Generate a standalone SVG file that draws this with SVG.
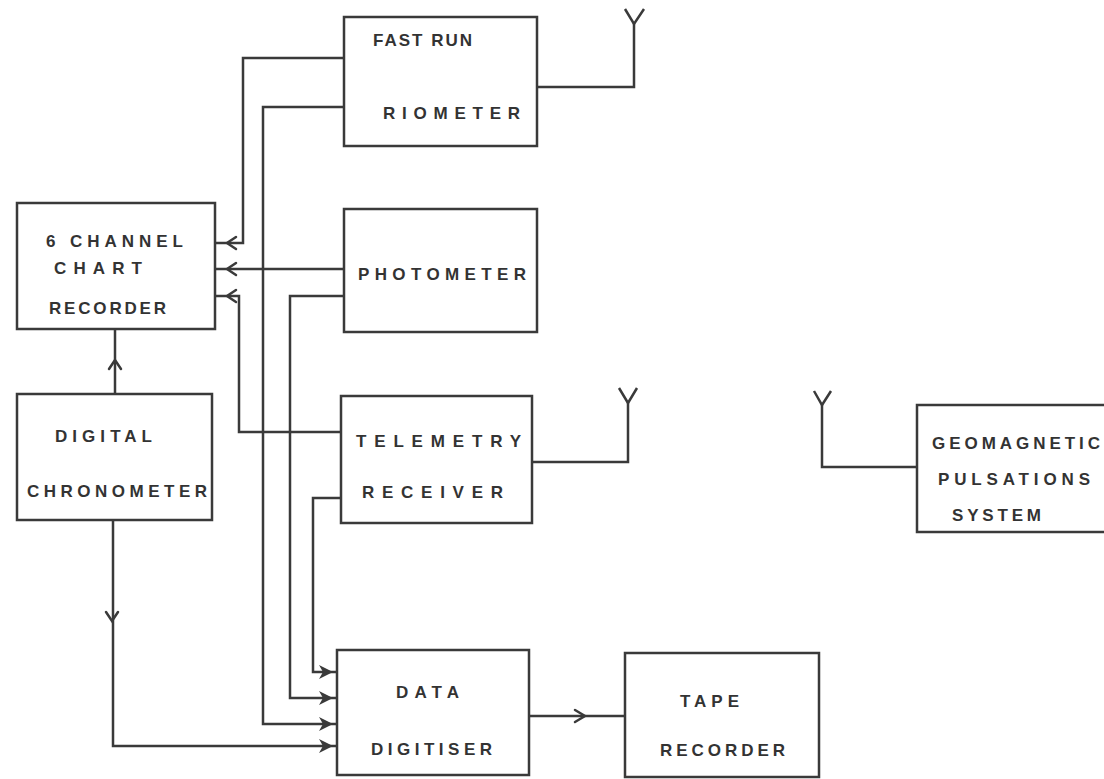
<svg xmlns="http://www.w3.org/2000/svg" width="1104" height="779" viewBox="0 0 1104 779">
<style>
.box{fill:none;stroke:#3a3a3a;stroke-width:2.5}
.ln{fill:none;stroke:#3a3a3a;stroke-width:2.5;stroke-linejoin:miter}
.chev{fill:none;stroke:#3a3a3a;stroke-width:2.5;stroke-linecap:round}
.tri{fill:#3a3a3a;stroke:none}
text{font-family:"Liberation Sans",Arial,sans-serif;font-weight:bold;font-size:17px;fill:#333}
</style>
<rect width="1104" height="779" fill="#fff"/>
<g id="riometer"><rect class="box" x="344" y="17" width="193" height="129"/><text x="373" y="46" textLength="99" lengthAdjust="spacing">FAST RUN</text><text x="383" y="119" textLength="137" lengthAdjust="spacing">RIOMETER</text></g>
<g id="photometer"><rect class="box" x="344" y="209" width="193" height="123"/><text x="358" y="280" textLength="168" lengthAdjust="spacing">PHOTOMETER</text></g>
<g id="telemetry"><rect class="box" x="341" y="396" width="191" height="127"/><text x="356" y="447" textLength="165" lengthAdjust="spacing">TELEMETRY</text><text x="362" y="498" textLength="141" lengthAdjust="spacing">RECEIVER</text></g>
<g id="chart"><rect class="box" x="17" y="203" width="198" height="126"/><text x="46" y="247" textLength="137" lengthAdjust="spacing">6 CHANNEL</text><text x="54" y="274" textLength="88" lengthAdjust="spacing">CHART</text><text x="49" y="314" textLength="117" lengthAdjust="spacing">RECORDER</text></g>
<g id="chronometer"><rect class="box" x="17" y="394" width="195" height="126"/><text x="55" y="442" textLength="97" lengthAdjust="spacing">DIGITAL</text><text x="27" y="497" textLength="180" lengthAdjust="spacing">CHRONOMETER</text></g>
<g id="digitiser"><rect class="box" x="337" y="650" width="192" height="125"/><text x="396" y="698" textLength="63" lengthAdjust="spacing">DATA</text><text x="371" y="755" textLength="121" lengthAdjust="spacing">DIGITISER</text></g>
<g id="tape"><rect class="box" x="625" y="653" width="194" height="124"/><text x="680" y="707" textLength="59" lengthAdjust="spacing">TAPE</text><text x="660" y="756" textLength="125" lengthAdjust="spacing">RECORDER</text></g>
<g id="geomagnetic"><rect class="box" x="917" y="405" width="200" height="127"/><text x="932" y="449" textLength="168" lengthAdjust="spacing">GEOMAGNETIC</text><text x="938" y="485" textLength="152" lengthAdjust="spacing">PULSATIONS</text><text x="952" y="521" textLength="89" lengthAdjust="spacing">SYSTEM</text></g>
<g id="connectors">
<path class="ln" d="M344,58 H243 V243 H215"/>
<path class="ln" d="M344,107 H263 V724 H337"/>
<path class="ln" d="M344,269 H215"/>
<path class="ln" d="M344,296 H290 V698 H337"/>
<path class="ln" d="M341,432 H239 V296 H215"/>
<path class="ln" d="M341,498 H313 V672 H337"/>
<path class="ln" d="M115,394 V329"/>
<path class="ln" d="M113,520 V746 H337"/>
<path class="ln" d="M529,716 H625"/>
<path class="ln" d="M537,87 H634 V23"/>
<path class="ln" d="M625,9 L634,24 L644,9"/>
<path class="ln" d="M532,462 H628 V402"/>
<path class="ln" d="M619,388 L628,403 L637,388"/>
<path class="ln" d="M917,467 H822 V404"/>
<path class="ln" d="M814,391 L822,405 L831,391"/>
<path class="chev" d="M236,237 L227,243 L236,249"/>
<path class="chev" d="M236,263 L227,269 L236,275"/>
<path class="chev" d="M236,290 L227,296 L236,302"/>
<path class="chev" d="M109,369 L115,360 L121,369"/>
<path class="chev" d="M106,612 L112,621 L118,612"/>
<path class="chev" d="M575,710 L585,716 L575,722"/>
<path class="tri" d="M333,672 L319,665 L323,672 L319,679 Z"/>
<path class="tri" d="M333,698 L319,691 L323,698 L319,705 Z"/>
<path class="tri" d="M333,724 L319,717 L323,724 L319,731 Z"/>
<path class="tri" d="M333,746 L319,739 L323,746 L319,753 Z"/>
</g>
</svg>
